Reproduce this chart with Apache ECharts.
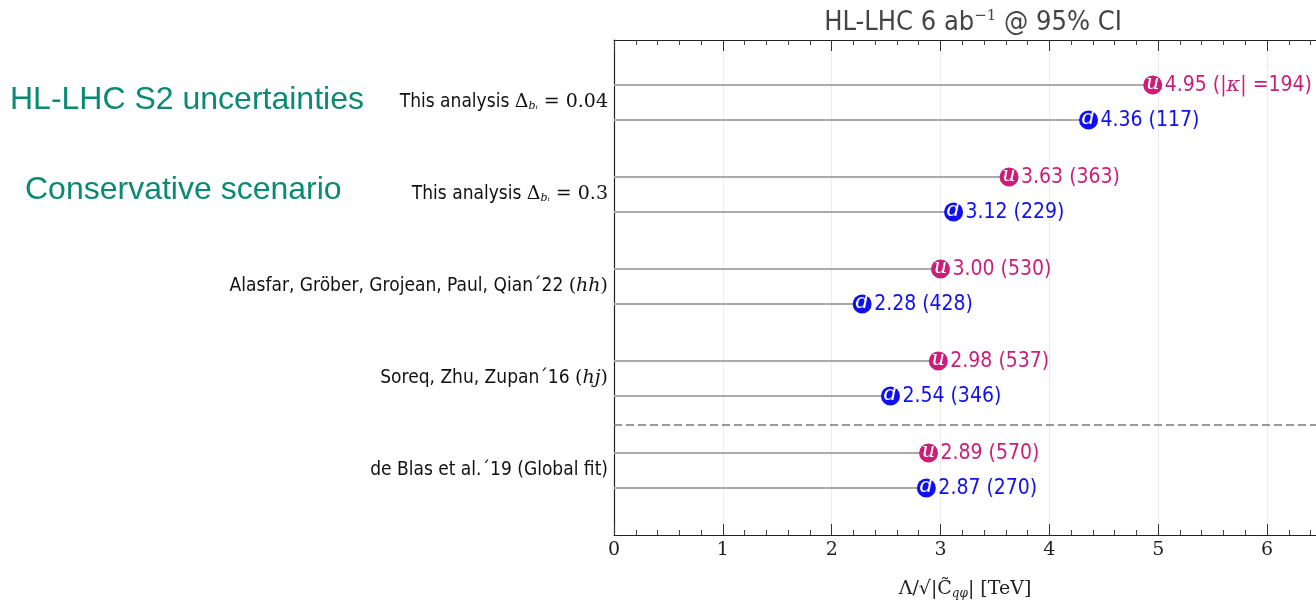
<!DOCTYPE html>
<html>
<head>
<meta charset="utf-8">
<script src="https://cdn.jsdelivr.net/npm/echarts@6/dist/echarts.min.js"></script>
<style>html,body{margin:0;padding:0;background:#fff}#c{width:1316px;height:605px}</style>
</head>
<body>
<div id="c"></div>
<script>
// ---- data ----
const groupNames = ['This analysis Δ=0.04', 'This analysis Δ=0.3', 'Alasfar, Gröber, Grojean, Paul, Qian´22 (hh)', 'Soreq, Zhu, Zupan´16 (hj)', 'de Blas et al.´19 (Global fit)'];
const uValues = [4.95, 3.63, 3.00, 2.98, 2.89];
const uKappa = [194, 363, 530, 537, 570];
const dValues = [4.36, 3.12, 2.28, 2.54, 2.87];
const dKappa = [117, 229, 428, 346, 270];
const xTicks = [0, 1, 2, 3, 4, 5, 6];

const COND = "'DejaVu Sans Condensed','Liberation Sans Narrow','DejaVu Sans',sans-serif";
const SERIF = "'DejaVu Serif','Liberation Serif',serif";
const uColor = '#CC1E79';
const dColor = '#1010EE';
const OFF = 0.19;

const richLabels = {
  s: {fontFamily: COND, fontSize: 19, color: '#111'},
  m: {fontFamily: SERIF, fontSize: 19, color: '#111'},
  mi: {fontFamily: SERIF, fontSize: 19, fontStyle: 'italic', color: '#111'},
  sub: {fontFamily: SERIF, fontSize: 11, fontStyle: 'italic', color: '#111', verticalAlign: 'bottom', padding: [8, 0, 0, 0]}
};
const labelRich = [
  '{s|This analysis }{m|Δ}{sub|bᵢ}{m| = 0.04}',
  '{s|This analysis }{m|Δ}{sub|bᵢ}{m| = 0.3}',
  '{s|Alasfar, Gröber, Grojean, Paul, Qian´22 }{m|(}{mi|hh}{m|)}',
  '{s|Soreq, Zhu, Zupan´16 }{m|(}{mi|hj}{m|)}',
  '{s|de Blas et al.´19 (Global fit)}'
];

const uData = uValues.map((v, i) => [v, i - OFF, uKappa[i], i]);
const dData = dValues.map((v, i) => [v, i + OFF, dKappa[i], i]);
const rowTicks = [];
groupNames.forEach((g, i) => { rowTicks.push(i - OFF, i + OFF); });

function makeRender(letter, color) {
  return function (params, api) {
    const x = api.value(0), y = api.value(1), k = api.value(2), gi = api.value(3);
    const p0 = api.coord([0, y]);
    const p = api.coord([x, y]);
    let txt = x.toFixed(2) + ' (' + k + ')';
    let rich = undefined;
    if (letter === 'u' && gi === 0) {
      txt = '{a|' + x.toFixed(2) + ' (|}{k|κ}{a|| =' + k + ')}';
      rich = {a: {fontFamily: COND, fontSize: 21, fill: color}, k: {fontFamily: SERIF, fontStyle: 'italic', fontSize: 21, fill: color}};
    }
    return {
      type: 'group',
      children: [
        {type: 'line', shape: {x1: p0[0], y1: p0[1], x2: p[0], y2: p[1]}, style: {stroke: '#aaaaaa', lineWidth: 2}},
        {type: 'circle', shape: {cx: p[0], cy: p[1], r: 9.5}, style: {fill: color}},
        {type: 'text', x: p[0], y: p[1] - 1, style: {text: letter, fill: '#fff', font: 'italic 21px ' + SERIF, align: 'center', verticalAlign: 'middle'}},
        {type: 'text', x: p[0] + 12, y: p[1] + 1, style: {text: txt, rich: rich, fill: color, font: '21px ' + COND, align: 'left', verticalAlign: 'middle'}}
      ]
    };
  };
}

const chart = echarts.init(document.getElementById('c'));
chart.setOption({
  animation: false,
  backgroundColor: '#fff',
  title: {
    text: 'HL-LHC 6 ab{sup|−1} @ 95% CI',
    left: 968, top: 4, textAlign: 'center',
    textStyle: {
      fontFamily: COND, fontSize: 27, fontWeight: 'normal', color: '#444',
      rich: {sup: {fontFamily: SERIF, fontSize: 15, color: '#444', verticalAlign: 'top', padding: [0, 0, 12, 0]}}
    }
  },
  graphic: [
    {type: 'text', left: 10, top: 84, style: {text: 'HL-LHC S2 uncertainties', fill: '#0A8A72', font: '32px "Liberation Sans", Arial, sans-serif'}},
    {type: 'text', left: 25, top: 174, style: {text: 'Conservative scenario', fill: '#0A8A72', font: '32px "Liberation Sans", Arial, sans-serif'}}
  ],
  grid: {left: 614, top: 40, bottom: 70, right: -6, containLabel: false},
  xAxis: [
    {
      type: 'value', min: 0, max: 6.45, interval: 1, position: 'bottom',
      axisLine: {show: true, onZero: false, lineStyle: {color: '#222', width: 1.2}},
      axisTick: {show: true, inside: true, length: 11, lineStyle: {color: '#333'}},
      minorTick: {show: true, splitNumber: 5, length: 5, lineStyle: {color: '#444'}},
      splitLine: {show: true, lineStyle: {color: '#ececec', width: 1}},
      axisLabel: {
        showMaxLabel: false, margin: 6,
        fontFamily: SERIF, fontSize: 19, color: '#222',
        formatter: v => (xTicks.indexOf(v) >= 0 ? String(v) : '')
      },
      name: 'Λ/√{o||C̃}{sub|qφ}{o||} [TeV]',
      nameLocation: 'middle', nameGap: 44,
      nameTextStyle: {
        fontFamily: SERIF, fontSize: 19, color: '#222', padding: [0, 0, 0, 0],
        rich: {o: {fontFamily: SERIF, fontSize: 19, color: '#222'}, sub: {fontFamily: SERIF, fontSize: 12, fontStyle: 'italic', color: '#222', padding: [9, 0, 0, 0]}}
      }
    },
    {
      type: 'value', min: 0, max: 6.45, interval: 1, position: 'top',
      axisLine: {show: true, onZero: false, lineStyle: {color: '#222', width: 1.2}},
      axisTick: {show: true, inside: true, length: 11, lineStyle: {color: '#333'}},
      minorTick: {show: true, splitNumber: 5, length: 5, lineStyle: {color: '#444'}},
      splitLine: {show: false},
      axisLabel: {show: false}
    }
  ],
  yAxis: {
    type: 'value', inverse: true, min: -0.679, max: 4.701,
    axisLine: {show: true, onZero: false, lineStyle: {color: '#222', width: 1.2}},
    axisTick: {show: true, inside: true, length: 8, customValues: rowTicks, lineStyle: {color: '#333'}},
    splitLine: {show: false},
    axisLabel: {
      customValues: [0, 1, 2, 3, 4], margin: 6,
      formatter: v => labelRich[Math.round(v)] || '',
      rich: richLabels
    }
  },
  series: [
    {type: 'custom', name: 'u', data: uData, clip: false, renderItem: makeRender('u', uColor), encode: {x: 0, y: 1}, z: 5},
    {type: 'custom', name: 'd', data: dData, clip: false, renderItem: makeRender('d', dColor), encode: {x: 0, y: 1}, z: 5},
    {
      type: 'line', data: [], silent: true,
      markLine: {symbol: 'none', silent: true, label: {show: false},
        lineStyle: {type: [8, 4], color: '#777', width: 1.5},
        data: [{yAxis: 3.5}]}
    }
  ]
});
</script>
</body>
</html>
